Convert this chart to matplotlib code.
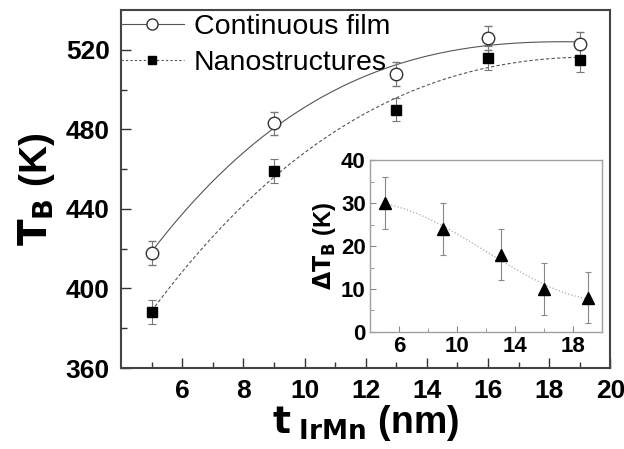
import numpy as np
import matplotlib
matplotlib.use("Agg")
import matplotlib.pyplot as plt

plt.rcParams['font.family'] = ['Liberation Sans', 'DejaVu Sans']

t_irmn = [5, 9, 13, 16, 19]
tb_film = [418, 483, 508, 526, 523]
tb_nano = [388, 459, 490, 516, 515]
err_film = [6, 6, 6, 6, 6]
err_nano = [6, 6, 6, 6, 6]
delta_tb = [30, 24, 18, 10, 8]
err_delta = [6, 6, 6, 6, 6]

fig = plt.figure(figsize=(6.24, 4.49), dpi=100)
ax = fig.add_axes([0.194, 0.1804, 0.784, 0.797])

xs = np.linspace(5, 19, 200)
pf = np.polyfit(t_irmn, tb_film, 3)
pn = np.polyfit(t_irmn, tb_nano, 3)

ax.plot(xs, np.polyval(pf, xs), color='#555555', lw=0.8)
ax.plot(xs, np.polyval(pn, xs), color='#555555', lw=0.8, ls=(0, (3, 2)))
ax.errorbar(t_irmn, tb_film, yerr=err_film, fmt='o', mfc='white', mec='#333333',
            ms=9, mew=1.0, ecolor='#777777', elinewidth=0.8, capsize=3, capthick=0.8)
ax.errorbar(t_irmn, tb_nano, yerr=err_nano, fmt='s', mfc='black', mec='black',
            ms=6.5, ecolor='#777777', elinewidth=0.8, capsize=3, capthick=0.8)

# legend handles
h1, = ax.plot([], [], color='#555555', lw=0.8, marker='o', mfc='white',
              mec='#333333', ms=8)
h2, = ax.plot([], [], color='#555555', lw=0.8, ls=(0, (2, 2)), marker='s',
              mfc='black', mec='black', ms=6)
ax.legend([h1, h2], ['Continuous film', 'Nanostructures'], loc='upper left',
          bbox_to_anchor=(0.0, 0.988), frameon=False, fontsize=20.5,
          handlelength=2.2, borderaxespad=0.0, borderpad=0.0,
          handletextpad=0.35, labelspacing=0.33)

ax.set_xlim(4, 20)
ax.set_ylim(360, 540)
ax.set_xticks([6, 8, 10, 12, 14, 16, 18, 20])
ax.set_xticks([5, 7, 9, 11, 13, 15, 17, 19], minor=True)
ax.set_yticks([360, 400, 440, 480, 520])
ax.set_yticks([380, 420, 460, 500], minor=True)
ax.tick_params(which='both', direction='in', labelsize=19, width=1, colors='#333333')
ax.tick_params(which='major', length=7, pad=8)
ax.tick_params(which='minor', length=4)
for lab in ax.get_xticklabels() + ax.get_yticklabels():
    lab.set_fontweight('bold')
    lab.set_color('black')
for s in ax.spines.values():
    s.set_color('#444444')
    s.set_linewidth(1.5)
ax.set_ylabel(r'$\mathbf{T}_{\mathbf{B}}$ (K)', fontsize=28, fontweight='bold', labelpad=6)
ax.set_xlabel(r'$\mathbf{t}_{\ \mathbf{IrMn}}$ (nm)', fontsize=27, fontweight='bold', labelpad=0)

# inset
ins = fig.add_axes([0.593, 0.2606, 0.372, 0.383])
pd = np.polyfit(t_irmn, delta_tb, 3)
ins.plot(xs, np.polyval(pd, xs), color='#aaaaaa', lw=0.9, ls=':')
ins.errorbar(t_irmn, delta_tb, yerr=err_delta, fmt='^', mfc='black', mec='black',
             ms=9, ecolor='#888888', elinewidth=0.8, capsize=2.5, capthick=0.8)
ins.set_xlim(4, 20)
ins.set_ylim(0, 40)
ins.set_xticks([6, 10, 14, 18])
ins.set_xticks([8, 12, 16], minor=True)
ins.set_yticks([0, 10, 20, 30, 40])
ins.set_yticks([5, 15, 25, 35], minor=True)
ins.tick_params(which='both', direction='in', labelsize=16, colors='#888888')
ins.tick_params(which='major', length=4, pad=3)
ins.tick_params(which='minor', length=3)
for lab in ins.get_xticklabels() + ins.get_yticklabels():
    lab.set_fontweight('bold')
    lab.set_color('black')
for s in ins.spines.values():
    s.set_color('#a0a0a0')
    s.set_linewidth(1.0)
ins.set_ylabel(r'$\mathbf{\Delta T}_{\mathbf{B}}$ (K)', fontsize=17, fontweight='bold', labelpad=2)

fig.savefig('out.png', dpi=100)
